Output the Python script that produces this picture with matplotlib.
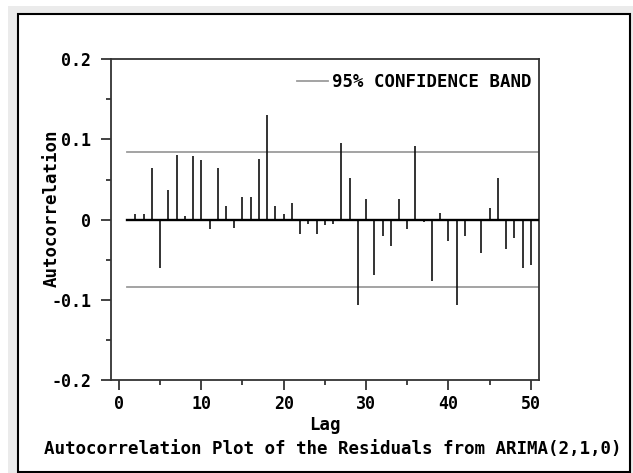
import numpy as np
import matplotlib
matplotlib.use("Agg")
import matplotlib.pyplot as plt
from matplotlib.patches import Rectangle
from matplotlib.lines import Line2D

# autocorrelation of residuals, lags 1..50
lags = list(range(1, 51))
acf = [
    -0.002, 0.007, 0.007, 0.064, -0.060, 0.037, 0.081, 0.005, 0.080, 0.074,
    -0.012, 0.064, 0.017, -0.010, 0.028, 0.028, 0.076, 0.131, 0.017, 0.007,
    0.021, -0.018, -0.005, -0.018, -0.007, -0.006, 0.096, 0.052, -0.107, 0.026,
    -0.069, -0.020, -0.033, 0.026, -0.012, 0.092, -0.003, -0.077, 0.008, -0.027,
    -0.107, -0.020, -0.001, -0.042, 0.015, 0.052, -0.037, -0.023, -0.060, -0.056,
]
conf = 0.0845

xticks = [0, 10, 20, 30, 40, 50]
xtick_labels = ["0", "10", "20", "30", "40", "50"]
yticks = [-0.2, -0.1, 0.0, 0.1, 0.2]
ytick_labels = ["-0.2", "-0.1", "0", "0.1", "0.2"]

W, H = 633, 473
FONT = "DejaVu Sans Mono"
FS = 12.5


def px(x, y):
    # pixel position (from top-left) -> figure fraction
    return x / W, 1 - y / H


fig = plt.figure(figsize=(W / 100, H / 100), dpi=100, facecolor="white")

# grey frame and white panel with black border
fig.patches.append(Rectangle(px(8, 473), (W - 8) / W, (473 - 6) / H,
                             transform=fig.transFigure, facecolor="#ebebeb",
                             edgecolor="none", zorder=-2))
fig.patches.append(Rectangle(px(18, 472), (630 - 18) / W, (472 - 14) / H,
                             transform=fig.transFigure, facecolor="white",
                             edgecolor="none", zorder=-1))
fig.patches.append(Rectangle(px(18, 472), (630 - 18) / W, (472 - 14) / H,
                             transform=fig.transFigure, facecolor="none",
                             edgecolor="black", linewidth=1.5, zorder=7))

left, right, top, bottom = 110.7, 539.0, 59.3, 380.0
ax = fig.add_axes([left / W, 1 - bottom / H, (right - left) / W, (bottom - top) / H])
ax.set_zorder(2)
ax.set_facecolor("white")
ax.set_xlim(-1, 51)
ax.set_ylim(-0.2, 0.2)

x0, x1 = ax.get_xlim()
start = (lags[0] - x0) / (x1 - x0)

ax.axhline(conf, xmin=start, xmax=1, color="#9c9c9c", lw=1.3, zorder=1)
ax.axhline(-conf, xmin=start, xmax=1, color="#9c9c9c", lw=1.3, zorder=1)
ax.axhline(0, xmin=start, xmax=1, color="black", lw=1.7, zorder=3)
ax.vlines(lags, 0, acf, color="#111111", lw=1.2, zorder=2)

for s in ax.spines.values():
    s.set_color("#333333")
    s.set_linewidth(1.3)

ax.set_xticks(xticks)
ax.set_xticklabels(xtick_labels)
ax.set_xticks([5, 15, 25, 35, 45], minor=True)
ax.set_yticks(yticks)
ax.set_yticklabels(ytick_labels)
ax.set_yticks([-0.15, -0.05, 0.05, 0.15], minor=True)
ax.tick_params(which="major", direction="out", length=7, width=1.2, color="#222222")
ax.tick_params(which="minor", direction="out", length=3.5, width=1.2, color="#222222")
ax.tick_params(axis="y", which="major", pad=7)
ax.tick_params(axis="x", which="major", pad=4)
for lab in ax.get_xticklabels() + ax.get_yticklabels():
    lab.set_fontfamily(FONT)
    lab.set_fontweight("bold")
    lab.set_fontsize(12)

handle = Line2D([], [], color="#9c9c9c", lw=1.3)
ax.legend([handle], ["95% CONFIDENCE BAND"], loc="center right",
          bbox_to_anchor=((532 - left) / (right - left), (bottom - 82) / (bottom - top)),
          frameon=False, borderaxespad=0, borderpad=0, handlelength=1.8,
          handletextpad=0.25, prop={"family": FONT, "weight": "bold", "size": FS})

fig.text(*px(52, 208), "Autocorrelation", rotation=90, ha="center", va="center",
         family=FONT, weight="bold", fontsize=FS)
fig.text(*px(325, 425), "Lag", ha="center", va="center",
         family=FONT, weight="bold", fontsize=FS)
fig.text(*px(43.5, 449), "Autocorrelation Plot of the Residuals from ARIMA(2,1,0)",
         ha="left", va="center", family=FONT, weight="bold", fontsize=12.6)

fig.savefig("out.png", dpi=100)
